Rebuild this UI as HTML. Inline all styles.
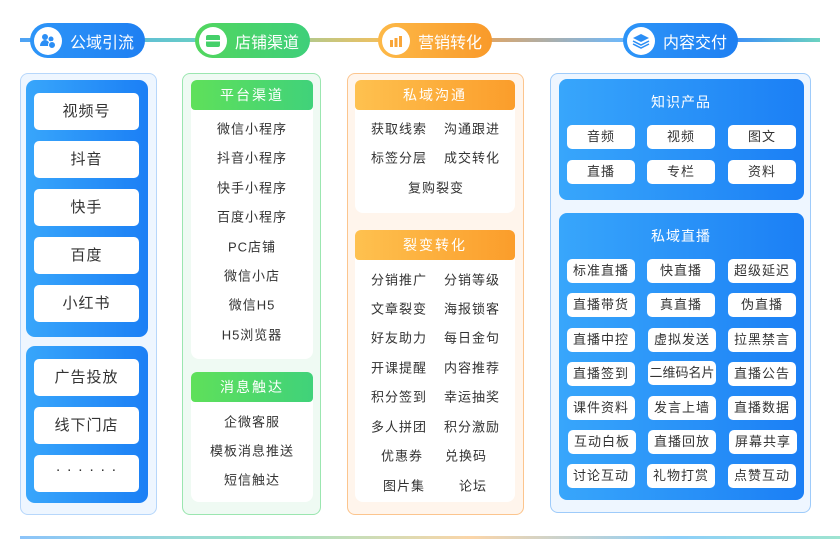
<!DOCTYPE html>
<html><head><meta charset="utf-8"><style>
*{margin:0;padding:0;box-sizing:border-box}
body{width:840px;height:560px;background:#fff;position:relative;overflow:hidden;font-family:"Liberation Sans","Noto Sans CJK SC",sans-serif;color:#333}
.a{position:absolute}
.pill{position:absolute;height:35px;border-radius:18px;color:#fff;font-size:16px;display:flex;align-items:center;padding-left:4px}
.pill .ic{width:28px;height:28px;border-radius:50%;background:#fff;margin-right:8px;display:flex;align-items:center;justify-content:center}
.btn{position:absolute;background:#fff;border-radius:5px;text-align:center;font-size:15px;color:#333;letter-spacing:1px}
.sb{position:absolute;background:#fff;border-radius:5px;text-align:center;font-size:13px;color:#333;height:24px;line-height:24px;width:68px;letter-spacing:1px}
.t{position:absolute;font-size:13px;color:#333;text-align:center;letter-spacing:1px;transform:translate(-50%,-50%);white-space:nowrap}
.hd{position:absolute;height:30px;line-height:30px;border-radius:6px 6px 4px 4px;color:#fff;text-align:center;font-size:14px;letter-spacing:2px}
.blue{background:linear-gradient(90deg,#38a6fb,#1b7ff5)}
</style></head><body>
<div class="a" style="left:20px;top:38px;width:800px;height:4px;background:linear-gradient(90deg,#4ea2f5,#6cd3c0 25%,#f0c060 45%,#f5a24a 55%,#70b8f8 75%,#3f93f5 90%,#6cd3c0)"></div>
<div class="a" style="left:20px;top:536px;width:820px;height:3px;background:linear-gradient(90deg,#8cc4fa,#9ee4c4 30%,#fbd5a8 55%,#8ccffa 80%,#9ee4d0)"></div>

<div class="pill" style="left:30px;top:23px;width:115px;background:linear-gradient(90deg,#2d95f8,#1e7ff2)"><div class="ic"><svg width="18" height="18" viewBox="0 0 18 18"><circle cx="6" cy="5" r="3" fill="#2b8ef5"/><path d="M1 14c0-4 3-6 5-6s5 2 5 6z" fill="#2b8ef5"/><circle cx="12" cy="7" r="2.5" fill="#2b8ef5"/><circle cx="13" cy="13" r="3.5" fill="#2b8ef5" stroke="#fff"/></svg></div>公域引流</div>
<div class="pill" style="left:195px;top:23px;width:115px;background:linear-gradient(90deg,#52d65f,#3ecf7a)"><div class="ic"><svg width="18" height="18" viewBox="0 0 18 18"><rect x="2" y="3" width="14" height="12" rx="2" fill="#45d06a"/><rect x="2" y="8" width="14" height="1.5" fill="#fff"/></svg></div>店铺渠道</div>
<div class="pill" style="left:378px;top:23px;width:114px;background:linear-gradient(90deg,#fdb948,#f99a2a)"><div class="ic"><svg width="18" height="18" viewBox="0 0 18 18"><rect x="3" y="8" width="3" height="7" fill="#f9a538"/><rect x="7.5" y="6" width="3" height="9" fill="#f9a538"/><rect x="12" y="4" width="3" height="11" fill="#f9a538"/></svg></div>营销转化</div>
<div class="pill" style="left:623px;top:23px;width:115px;background:linear-gradient(90deg,#2d95f8,#1e7ff2)"><div class="ic"><svg width="18" height="18" viewBox="0 0 18 18"><path d="M9 2 17 6 9 10 1 6z" fill="#2b8ef5"/><path d="M1 9l8 4 8-4M1 12l8 4 8-4" stroke="#2b8ef5" stroke-width="1.5" fill="none"/></svg></div>内容交付</div>

<!-- col1 -->
<div class="a" style="left:20px;top:73px;width:137px;height:442px;background:#eef6ff;border:1px solid #b7d7fb;border-radius:8px"></div>
<div class="a blue" style="left:26px;top:80px;width:122px;height:257px;border-radius:9px"></div>
<div class="a blue" style="left:26px;top:346px;width:122px;height:157px;border-radius:9px"></div>
<div class="btn" style="left:34px;top:93px;width:105px;height:37px;line-height:37px">视频号</div>
<div class="btn" style="left:34px;top:141px;width:105px;height:37px;line-height:37px">抖音</div>
<div class="btn" style="left:34px;top:189px;width:105px;height:37px;line-height:37px">快手</div>
<div class="btn" style="left:34px;top:237px;width:105px;height:37px;line-height:37px">百度</div>
<div class="btn" style="left:34px;top:285px;width:105px;height:37px;line-height:37px">小红书</div>
<div class="btn" style="left:34px;top:359px;width:105px;height:37px;line-height:37px">广告投放</div>
<div class="btn" style="left:34px;top:407px;width:105px;height:37px;line-height:37px">线下门店</div>
<div class="btn" style="left:34px;top:455px;width:105px;height:37px;line-height:30px">· · · · · ·</div>

<!-- col2 -->
<div class="a" style="left:182px;top:73px;width:139px;height:442px;background:#effaf3;border:1px solid #9be6b0;border-radius:8px"></div>
<div class="a" style="left:191px;top:80px;width:122px;height:279px;background:#fff;border-radius:8px"></div>
<div class="a" style="left:191px;top:372px;width:122px;height:130px;background:#fff;border-radius:8px"></div>
<div class="hd" style="left:191px;top:80px;width:122px;background:linear-gradient(90deg,#5fe05a,#40d27a)">平台渠道</div>
<div class="hd" style="left:191px;top:372px;width:122px;background:linear-gradient(90deg,#5fe05a,#40d27a)">消息触达</div>
<div class="t" style="left:252px;top:128px">微信小程序</div>
<div class="t" style="left:252px;top:157px">抖音小程序</div>
<div class="t" style="left:252px;top:187px">快手小程序</div>
<div class="t" style="left:252px;top:216px">百度小程序</div>
<div class="t" style="left:252px;top:246px">PC店铺</div>
<div class="t" style="left:252px;top:275px">微信小店</div>
<div class="t" style="left:252px;top:304px">微信H5</div>
<div class="t" style="left:252px;top:334px">H5浏览器</div>
<div class="t" style="left:252px;top:421px">企微客服</div>
<div class="t" style="left:252px;top:450px">模板消息推送</div>
<div class="t" style="left:252px;top:479px">短信触达</div>

<!-- col3 -->
<div class="a" style="left:347px;top:73px;width:177px;height:442px;background:#fff5ec;border:1px solid #fcc58e;border-radius:8px"></div>
<div class="a" style="left:355px;top:80px;width:160px;height:133px;background:#fff;border-radius:8px"></div>
<div class="a" style="left:355px;top:230px;width:160px;height:272px;background:#fff;border-radius:8px"></div>
<div class="hd" style="left:355px;top:80px;width:160px;background:linear-gradient(90deg,#fec14f,#fb9d2b)">私域沟通</div>
<div class="hd" style="left:355px;top:230px;width:160px;background:linear-gradient(90deg,#fec14f,#fb9d2b)">裂变转化</div>
<div class="t" style="left:399px;top:128px">获取线索</div><div class="t" style="left:472px;top:128px">沟通跟进</div>
<div class="t" style="left:399px;top:157px">标签分层</div><div class="t" style="left:472px;top:157px">成交转化</div>
<div class="t" style="left:436px;top:187px">复购裂变</div>
<div class="t" style="left:399px;top:279px">分销推广</div><div class="t" style="left:472px;top:279px">分销等级</div>
<div class="t" style="left:399px;top:308px">文章裂变</div><div class="t" style="left:472px;top:308px">海报锁客</div>
<div class="t" style="left:399px;top:337px">好友助力</div><div class="t" style="left:472px;top:337px">每日金句</div>
<div class="t" style="left:399px;top:367px">开课提醒</div><div class="t" style="left:472px;top:367px">内容推荐</div>
<div class="t" style="left:399px;top:396px">积分签到</div><div class="t" style="left:472px;top:396px">幸运抽奖</div>
<div class="t" style="left:399px;top:426px">多人拼团</div><div class="t" style="left:472px;top:426px">积分激励</div>
<div class="t" style="left:402px;top:455px">优惠券</div><div class="t" style="left:466px;top:455px">兑换码</div>
<div class="t" style="left:404px;top:485px">图片集</div><div class="t" style="left:473px;top:485px">论坛</div>

<!-- col4 -->
<div class="a" style="left:550px;top:73px;width:261px;height:440px;background:#eef6ff;border:1px solid #9ecbfa;border-radius:8px"></div>
<div class="a blue" style="left:559px;top:79px;width:245px;height:121px;border-radius:8px"></div>
<div class="a blue" style="left:559px;top:213px;width:245px;height:287px;border-radius:8px"></div>
<div class="t" style="left:681px;top:102px;color:#fff;font-size:14px">知识产品</div>
<div class="t" style="left:681px;top:236px;color:#fff;font-size:14px">私域直播</div>
<div class="sb" style="left:567px;top:125px">音频</div><div class="sb" style="left:647px;top:125px">视频</div><div class="sb" style="left:728px;top:125px">图文</div>
<div class="sb" style="left:567px;top:160px">直播</div><div class="sb" style="left:647px;top:160px">专栏</div><div class="sb" style="left:728px;top:160px">资料</div>

<div class="sb" style="left:567px;top:259px">标准直播</div><div class="sb" style="left:647px;top:259px">快直播</div><div class="sb" style="left:728px;top:259px">超级延迟</div>
<div class="sb" style="left:567px;top:293px">直播带货</div><div class="sb" style="left:647px;top:293px">真直播</div><div class="sb" style="left:728px;top:293px">伪直播</div>
<div class="sb" style="left:567px;top:328px">直播中控</div><div class="sb" style="left:648px;top:328px">虚拟发送</div><div class="sb" style="left:728px;top:328px">拉黑禁言</div>
<div class="sb" style="left:567px;top:362px">直播签到</div><div class="sb" style="left:648px;top:361px;letter-spacing:0">二维码名片</div><div class="sb" style="left:728px;top:362px">直播公告</div>
<div class="sb" style="left:567px;top:396px">课件资料</div><div class="sb" style="left:648px;top:396px">发言上墙</div><div class="sb" style="left:728px;top:396px">直播数据</div>
<div class="sb" style="left:568px;top:430px">互动白板</div><div class="sb" style="left:648px;top:430px">直播回放</div><div class="sb" style="left:729px;top:430px">屏幕共享</div>
<div class="sb" style="left:567px;top:464px">讨论互动</div><div class="sb" style="left:647px;top:464px">礼物打赏</div><div class="sb" style="left:728px;top:464px">点赞互动</div>
</body></html>
